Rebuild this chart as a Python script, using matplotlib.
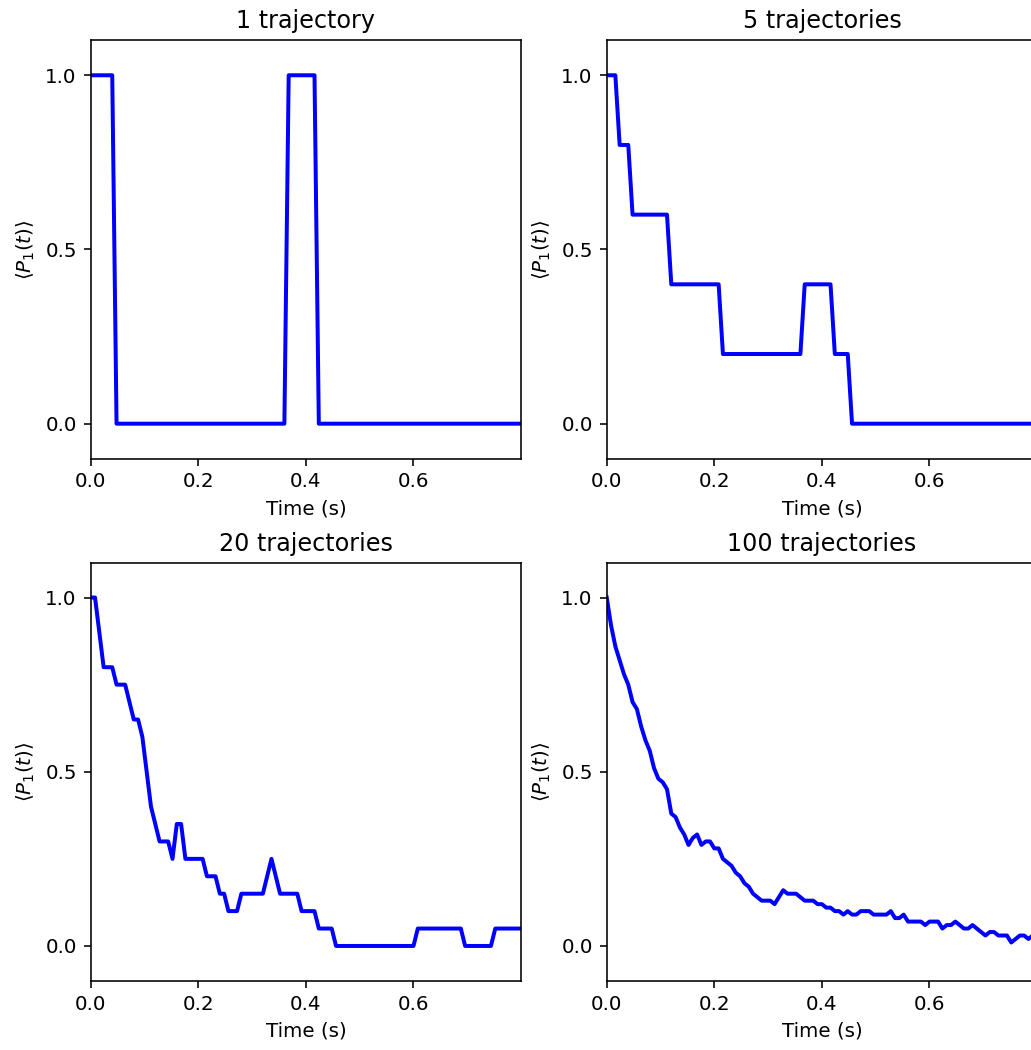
import matplotlib
matplotlib.use("Agg")
import matplotlib.pyplot as plt
import numpy as np

# time grid (s)
dt = 0.008
t = np.arange(101) * dt

titles = ["1 trajectory", "5 trajectories", "20 trajectories", "100 trajectories"]

p_1 = [1.0, 1.0, 1.0, 1.0, 1.0, 1.0, 0.0, 0.0, 0.0, 0.0,
       0.0, 0.0, 0.0, 0.0, 0.0, 0.0, 0.0, 0.0, 0.0, 0.0,
       0.0, 0.0, 0.0, 0.0, 0.0, 0.0, 0.0, 0.0, 0.0, 0.0,
       0.0, 0.0, 0.0, 0.0, 0.0, 0.0, 0.0, 0.0, 0.0, 0.0,
       0.0, 0.0, 0.0, 0.0, 0.0, 0.0, 1.0, 1.0, 1.0, 1.0,
       1.0, 1.0, 1.0, 0.0, 0.0, 0.0, 0.0, 0.0, 0.0, 0.0,
       0.0, 0.0, 0.0, 0.0, 0.0, 0.0, 0.0, 0.0, 0.0, 0.0,
       0.0, 0.0, 0.0, 0.0, 0.0, 0.0, 0.0, 0.0, 0.0, 0.0,
       0.0, 0.0, 0.0, 0.0, 0.0, 0.0, 0.0, 0.0, 0.0, 0.0,
       0.0, 0.0, 0.0, 0.0, 0.0, 0.0, 0.0, 0.0, 0.0, 0.0,
       0.0]

p_5 = [1.0, 1.0, 1.0, 0.8, 0.8, 0.8, 0.6, 0.6, 0.6, 0.6,
       0.6, 0.6, 0.6, 0.6, 0.6, 0.4, 0.4, 0.4, 0.4, 0.4,
       0.4, 0.4, 0.4, 0.4, 0.4, 0.4, 0.4, 0.2, 0.2, 0.2,
       0.2, 0.2, 0.2, 0.2, 0.2, 0.2, 0.2, 0.2, 0.2, 0.2,
       0.2, 0.2, 0.2, 0.2, 0.2, 0.2, 0.4, 0.4, 0.4, 0.4,
       0.4, 0.4, 0.4, 0.2, 0.2, 0.2, 0.2, 0.0, 0.0, 0.0,
       0.0, 0.0, 0.0, 0.0, 0.0, 0.0, 0.0, 0.0, 0.0, 0.0,
       0.0, 0.0, 0.0, 0.0, 0.0, 0.0, 0.0, 0.0, 0.0, 0.0,
       0.0, 0.0, 0.0, 0.0, 0.0, 0.0, 0.0, 0.0, 0.0, 0.0,
       0.0, 0.0, 0.0, 0.0, 0.0, 0.0, 0.0, 0.0, 0.0, 0.0,
       0.0]

p_20 = [1.0, 1.0, 0.9, 0.8, 0.8, 0.8, 0.75, 0.75, 0.75, 0.7,
        0.65, 0.65, 0.6, 0.5, 0.4, 0.35, 0.3, 0.3, 0.3, 0.25,
        0.35, 0.35, 0.25, 0.25, 0.25, 0.25, 0.25, 0.2, 0.2, 0.2,
        0.15, 0.15, 0.1, 0.1, 0.1, 0.15, 0.15, 0.15, 0.15, 0.15,
        0.15, 0.2, 0.25, 0.2, 0.15, 0.15, 0.15, 0.15, 0.15, 0.1,
        0.1, 0.1, 0.1, 0.05, 0.05, 0.05, 0.05, 0.0, 0.0, 0.0,
        0.0, 0.0, 0.0, 0.0, 0.0, 0.0, 0.0, 0.0, 0.0, 0.0,
        0.0, 0.0, 0.0, 0.0, 0.0, 0.0, 0.05, 0.05, 0.05, 0.05,
        0.05, 0.05, 0.05, 0.05, 0.05, 0.05, 0.05, 0.0, 0.0, 0.0,
        0.0, 0.0, 0.0, 0.0, 0.05, 0.05, 0.05, 0.05, 0.05, 0.05,
        0.05]

p_100 = [1.0, 0.92, 0.86, 0.82, 0.78, 0.75, 0.70, 0.68, 0.63, 0.59,
         0.56, 0.51, 0.48, 0.47, 0.45, 0.38, 0.37, 0.34, 0.32, 0.29,
         0.31, 0.32, 0.29, 0.30, 0.30, 0.28, 0.28, 0.25, 0.24, 0.23,
         0.21, 0.20, 0.18, 0.17, 0.15, 0.14, 0.13, 0.13, 0.13, 0.12,
         0.14, 0.16, 0.15, 0.15, 0.15, 0.14, 0.13, 0.13, 0.13, 0.12,
         0.12, 0.11, 0.11, 0.10, 0.10, 0.09, 0.10, 0.09, 0.09, 0.10,
         0.10, 0.10, 0.09, 0.09, 0.09, 0.09, 0.10, 0.08, 0.08, 0.09,
         0.07, 0.07, 0.07, 0.07, 0.06, 0.07, 0.07, 0.07, 0.05, 0.06,
         0.06, 0.07, 0.06, 0.05, 0.05, 0.06, 0.05, 0.04, 0.03, 0.04,
         0.04, 0.03, 0.03, 0.03, 0.01, 0.02, 0.03, 0.03, 0.02, 0.03,
         0.02]

series = [p_1, p_5, p_20, p_100]

dpi = 143.2
fig = plt.figure(figsize=(1031 / dpi, 1050 / dpi), dpi=dpi)

# axes boxes (right column runs a little past the figure edge, as in the original)
positions = [
    [0.088, 0.5633, 0.4174, 0.3982],
    [0.5885, 0.5633, 0.4174, 0.3982],
    [0.088, 0.0659, 0.4174, 0.3982],
    [0.5885, 0.0659, 0.4174, 0.3982],
]

for pos, title, y in zip(positions, titles, series):
    ax = fig.add_axes(pos)
    ax.plot(t, y, color="b", linewidth=2.0)
    ax.set_xlim(0, 0.8)
    ax.set_ylim(-0.1, 1.1)
    ax.set_xticks([0.0, 0.2, 0.4, 0.6])
    ax.set_yticks([0.0, 0.5, 1.0])
    ax.set_xlabel("Time (s)")
    ax.set_ylabel(r"$\langle P_1(t)\rangle$")
    ax.set_title(title)

fig.savefig("out.png", dpi=dpi)
